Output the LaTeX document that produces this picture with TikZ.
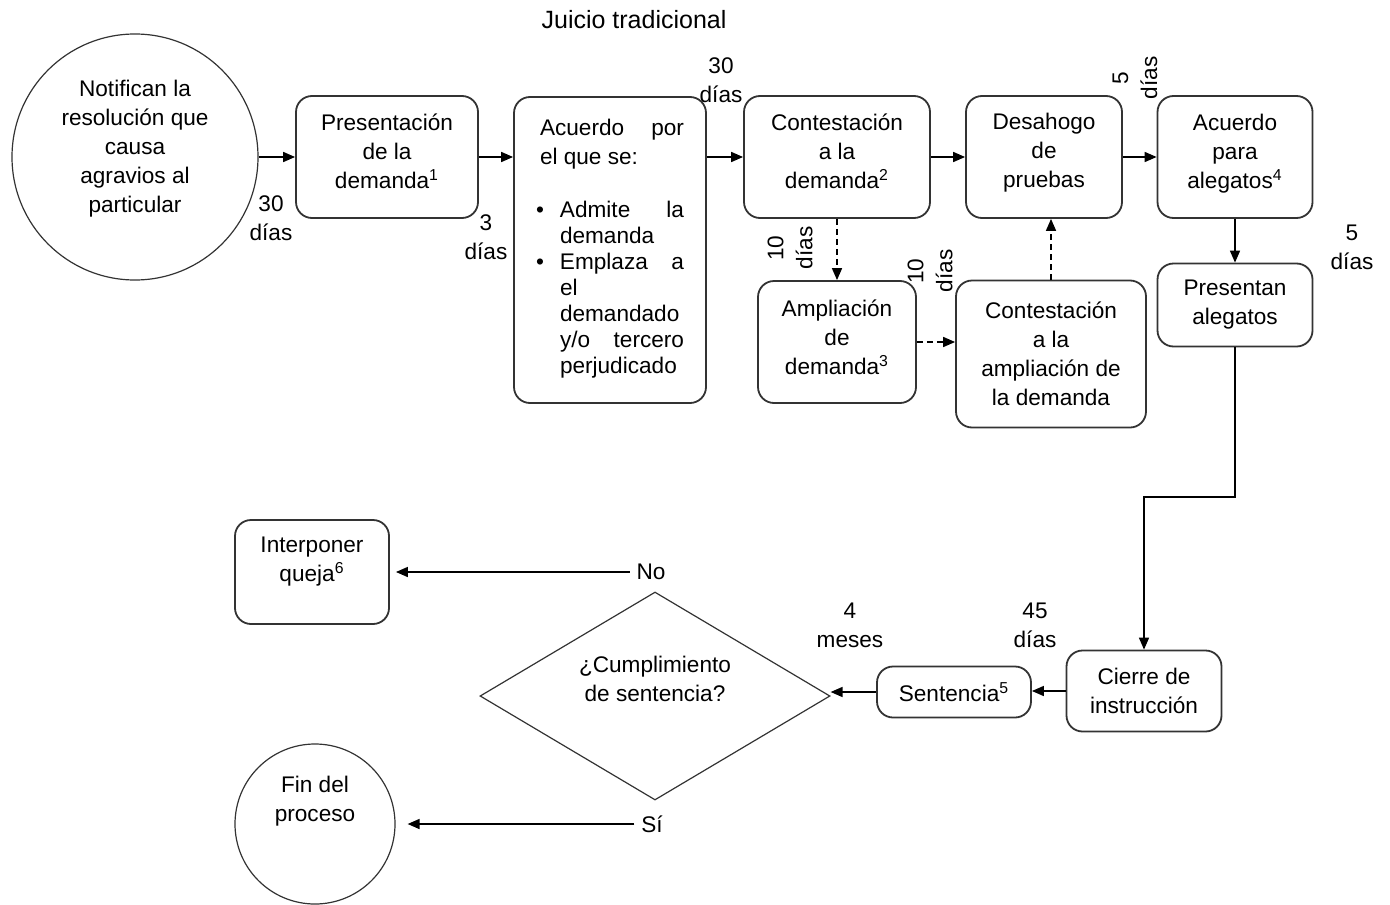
\documentclass[tikz,border=0pt]{standalone}
\usepackage{fontspec}
\setmainfont{Liberation Sans}
\usetikzlibrary{shapes.geometric,arrows.meta,positioning}
\newcommand{\textlift}[1]{\rule[-#1]{0pt}{#1}}

\begin{document}
\begin{tikzpicture}[x=0.5pt, y=-0.5pt,
    every node/.style={font=\fontsize{11.3}{14.5}\selectfont},
    stepbox/.style={draw=black!80, line width=0.9pt, rounded corners=8pt, align=center, inner sep=2pt},
    endcircle/.style={draw=black!80, line width=0.6pt, circle, align=center, inner sep=0pt},
    term/.style={align=center, inner sep=1pt},
    vterm/.style={term, rotate=90},
    flow/.style={-{Triangle[length=6pt,width=5pt]}, line width=0.8pt},
    dashflow/.style={flow, dash pattern=on 3pt off 2pt}]
    \useasboundingbox (0,0) rectangle (1390,904);

    % Title
    \node[font=\fontsize{12.5}{15}\selectfont] (titulo) at (634,20) {Juicio tradicional};

    % Start
    \node[endcircle, minimum size=123pt] (notifica) at (135,157) {Notifican la\\resolución que\\causa\\agravios al\\particular\textlift{11pt}};

    % Upper chain
    \node[stepbox, minimum width=91pt, minimum height=61pt] (presenta) at (387,157) {Presentación\\de la\\demanda\textsuperscript{1}\textlift{6pt}};
    \node[stepbox, minimum width=96pt, minimum height=153pt] (acuerdo) at (610,250) {\begin{minipage}{74pt}
        \hyphenpenalty=10000 \exhyphenpenalty=10000
        \hspace*{2pt}Acuerdo\hfill por\\
        \hspace*{2pt}el que se:\par
        \vspace{13.5pt}\fontsize{11.3}{13}\selectfont
        \makebox[12pt][l]{\textbullet}Admite\hfill la\\
        \hspace*{12pt}demanda\\
        \makebox[12pt][l]{\textbullet}Emplaza\hfill a\\
        \hspace*{12pt}el\\
        \hspace*{12pt}demandado\\
        \hspace*{12pt}y/o\hfill tercero\\
        \hspace*{12pt}perjudicado\textlift{4pt}
    \end{minipage}};
    \node[stepbox, minimum width=93pt, minimum height=61pt] (contesta) at (837,157) {Contestación\\a la\\demanda\textsuperscript{2}\textlift{6pt}};
    \node[stepbox, minimum width=78pt, minimum height=61pt] (desahogo) at (1044,157) {Desahogo\\de\\pruebas\textlift{6.5pt}};
    \node[stepbox, minimum width=77.5pt, minimum height=61pt] (acuerdoal) at (1235,157) {Acuerdo\\para\\alegatos\textsuperscript{4}\textlift{5.5pt}};
    \node[stepbox, minimum width=77.5pt, minimum height=41.5pt] (alegatos) at (1235,305) {Presentan\\alegatos};
    \node[stepbox, minimum width=79pt, minimum height=61pt] (amplia) at (837,342) {Ampliación\\de\\demanda\textsuperscript{3}\textlift{5pt}};
    \node[stepbox, minimum width=95pt, minimum height=73.5pt] (contamplia) at (1051,354) {Contestación\\a la\\ampliación de\\la demanda};

    % Lower chain
    \node[stepbox, minimum width=77.5pt, minimum height=40.5pt] (cierre) at (1144,691) {Cierre de\\instrucción};
    \node[stepbox, minimum width=77pt, minimum height=25.5pt] (sentencia) at (954,692) {Sentencia\textsuperscript{5}};
    \node[draw=black!80, line width=0.6pt, diamond, shape aspect=1.68, minimum width=175pt, minimum height=104pt, inner sep=0pt, align=center] (cumple) at (655,696) {¿Cumplimiento\\de sentencia?\textlift{17.5pt}};
    \node[stepbox, minimum width=77pt, minimum height=52pt] (queja) at (312,572) {Interponer\\queja\textsuperscript{6}\textlift{13pt}};
    \node[endcircle, minimum size=80pt] (fin) at (315,824) {Fin del\\proceso\textlift{25pt}};

    % Time labels
    \node[term] (t30a) at (271,218) {30\\días};
    \node[term] (t3) at (486,237) {3\\días};
    \node[term] (t30b) at (721,80) {30\\días};
    \node[vterm] (t5a) at (1135,78) {5\\días};
    \node[term] (t5b) at (1352,247) {5\\días};
    \node[vterm] (t10a) at (790,248) {10\\días};
    \node[vterm] (t10b) at (930,271) {10\\días};
    \node[term] (t45) at (1035,625) {45\\días};
    \node[term] (t4) at (850,625) {4\\meses};
    \node (no) at (651,572) {No};
    \node (si) at (652,824) {Sí};

    % Arrows
    \draw[flow] (notifica) -- (presenta);
    \draw[flow] (presenta) -- (presenta -| acuerdo.west);
    \draw[flow] (acuerdo.east |- contesta) -- (contesta);
    \draw[flow] (contesta) -- (desahogo);
    \draw[flow] (desahogo) -- (acuerdoal);
    \draw[flow] (acuerdoal) -- (alegatos);
    \coordinate (codo) at (1144,497);
    \draw[flow] (alegatos) |- (codo) -- (cierre);
    \draw[flow] (cierre.west) -- (cierre.west -| sentencia.east);
    \draw[flow] (sentencia.west) -- (sentencia.west -| cumple.east);
    \draw[flow, shorten >=3pt] (no) -- (queja);
    \draw[flow, shorten >=6pt] (si) -- (fin);
    \draw[dashflow] (contesta) -- (amplia);
    \draw[dashflow] (amplia) -- (amplia -| contamplia.west);
    \draw[dashflow] (contamplia) -- (contamplia |- desahogo.south);
\end{tikzpicture}
\end{document}
